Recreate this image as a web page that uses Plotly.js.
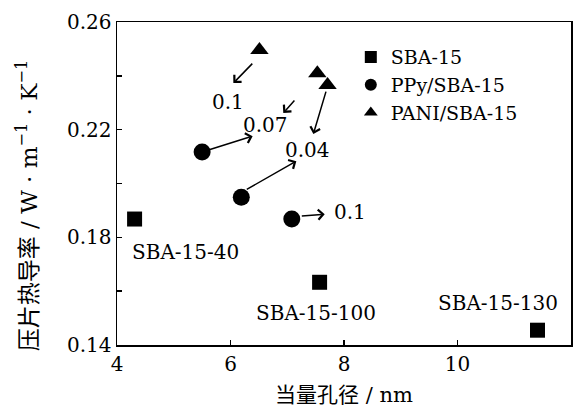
<!DOCTYPE html>
<html>
<head>
<meta charset="utf-8">
<script src="https://cdn.plot.ly/plotly-3.0.1.min.js"></script>
<style>html,body{margin:0;padding:0;background:#fff;}#chart{width:583px;height:407px;}</style>
</head>
<body>
<div id="chart"></div>
<script>
// ---- data ----
const sbaX = [4.31, 7.57, 11.41];
const sbaY = [0.1868, 0.1633, 0.1455];
const sbaLabels = ['SBA-15-40', 'SBA-15-100', 'SBA-15-130'];
const sbaLabelX = [5.21, 7.51, 10.71];
const sbaLabelY = [0.1745, 0.1518, 0.1555];

const ppyX = [5.50, 6.19, 7.08];
const ppyY = [0.2117, 0.1949, 0.1868];

const paniX = [6.51, 7.53, 7.71];
const paniY = [0.2496, 0.2410, 0.2366];

// arrows: tail -> tip
const arrowTailX = [6.41, 7.15, 7.69, 5.50, 6.26, 7.23];
const arrowTailY = [0.2451, 0.2314, 0.2347, 0.2117, 0.1975, 0.1879];
const arrowTipX  = [6.05, 6.93, 7.46, 6.39, 7.16, 7.66];
const arrowTipY  = [0.2373, 0.2262, 0.2184, 0.2176, 0.2083, 0.1886];

const valueLabels = ['0.1', '0.07', '0.04', '0.1'];
const valueLabelX = [5.96, 6.62, 7.36, 8.11];
const valueLabelY = [0.2303, 0.2217, 0.2124, 0.1894];

const seriesNames = ['SBA-15', 'PPy/SBA-15', 'PANI/SBA-15'];
const xTitle = '当量孔径 / nm';
const yTitle = '压片热导率 / W · m<sup>−1</sup> · K<sup>−1</sup>';

// ---- chart ----
const FONT = 'DejaVu Serif, Noto Sans CJK SC, serif';
const traces = [
  {x: sbaX, y: sbaY, name: seriesNames[0], type: 'scatter', mode: 'markers',
   marker: {symbol: 'square', size: 15, color: '#000'}},
  {x: ppyX, y: ppyY, name: seriesNames[1], type: 'scatter', mode: 'markers',
   marker: {symbol: 'circle', size: 17, color: '#000'}},
  {x: paniX, y: paniY, name: seriesNames[2], type: 'scatter', mode: 'markers',
   marker: {symbol: 'triangle-up', size: 16, color: '#000'}}
];

const annotations = [];
for (let i = 0; i < arrowTailX.length; i++) {
  annotations.push({
    x: arrowTipX[i], y: arrowTipY[i], ax: arrowTailX[i], ay: arrowTailY[i],
    xref: 'x', yref: 'y', axref: 'x', ayref: 'y',
    text: '', showarrow: true, arrowhead: 4, arrowsize: 1.3, arrowwidth: 1.5,
    arrowcolor: '#000', standoff: 0, startstandoff: 0
  });
}
for (let i = 0; i < valueLabels.length; i++) {
  annotations.push({x: valueLabelX[i], y: valueLabelY[i], xref: 'x', yref: 'y',
    text: valueLabels[i], showarrow: false, font: {family: FONT, size: 20, color: '#000'}});
}
for (let i = 0; i < sbaLabels.length; i++) {
  annotations.push({x: sbaLabelX[i], y: sbaLabelY[i], xref: 'x', yref: 'y',
    text: sbaLabels[i], showarrow: false, font: {family: FONT, size: 20, color: '#000'}});
}
// y-axis title (placed as rotated annotation to match original position)
annotations.push({x: -0.198, y: 0.43, xref: 'paper', yref: 'paper', xanchor: 'center', yanchor: 'middle',
  text: yTitle, textangle: -90, showarrow: false, font: {family: FONT, size: 23, color: '#000'}});

const layout = {
  width: 583, height: 407,
  margin: {l: 117, r: 12, t: 22, b: 62},
  paper_bgcolor: '#fff', plot_bgcolor: '#fff',
  font: {family: FONT, size: 20, color: '#000'},
  showlegend: true,
  legend: {x: 0.515, y: 0.95, xanchor: 'left', yanchor: 'top',
    bgcolor: 'rgba(0,0,0,0)', font: {family: FONT, size: 19, color: '#000'},
    itemsizing: 'constant', tracegroupgap: 0},
  xaxis: {
    range: [4, 12], tick0: 4, dtick: 2, ticks: 'inside', ticklen: 5, tickwidth: 1.5,
    tickcolor: '#000', showline: true, linecolor: '#000', linewidth: 1.5, mirror: true,
    showgrid: false, zeroline: false,
    tickfont: {family: FONT, size: 20},
    title: {text: xTitle, font: {family: FONT, size: 21}, standoff: 14}
  },
  yaxis: {
    range: [0.14, 0.26], tick0: 0.14, dtick: 0.04, tickformat: '.2f',
    ticks: 'inside', ticklen: 5, tickwidth: 1.5, tickcolor: '#000',
    minor: {dtick: 0.02, ticks: 'inside', ticklen: 5, tickwidth: 1.5, tickcolor: '#000', showgrid: false},
    showline: true, linecolor: '#000', linewidth: 1.5, mirror: true,
    showgrid: false, zeroline: false,
    tickfont: {family: FONT, size: 20}
  },
  annotations: annotations
};

Plotly.newPlot('chart', traces, layout, {displayModeBar: false, staticPlot: true});
</script>
</body>
</html>
